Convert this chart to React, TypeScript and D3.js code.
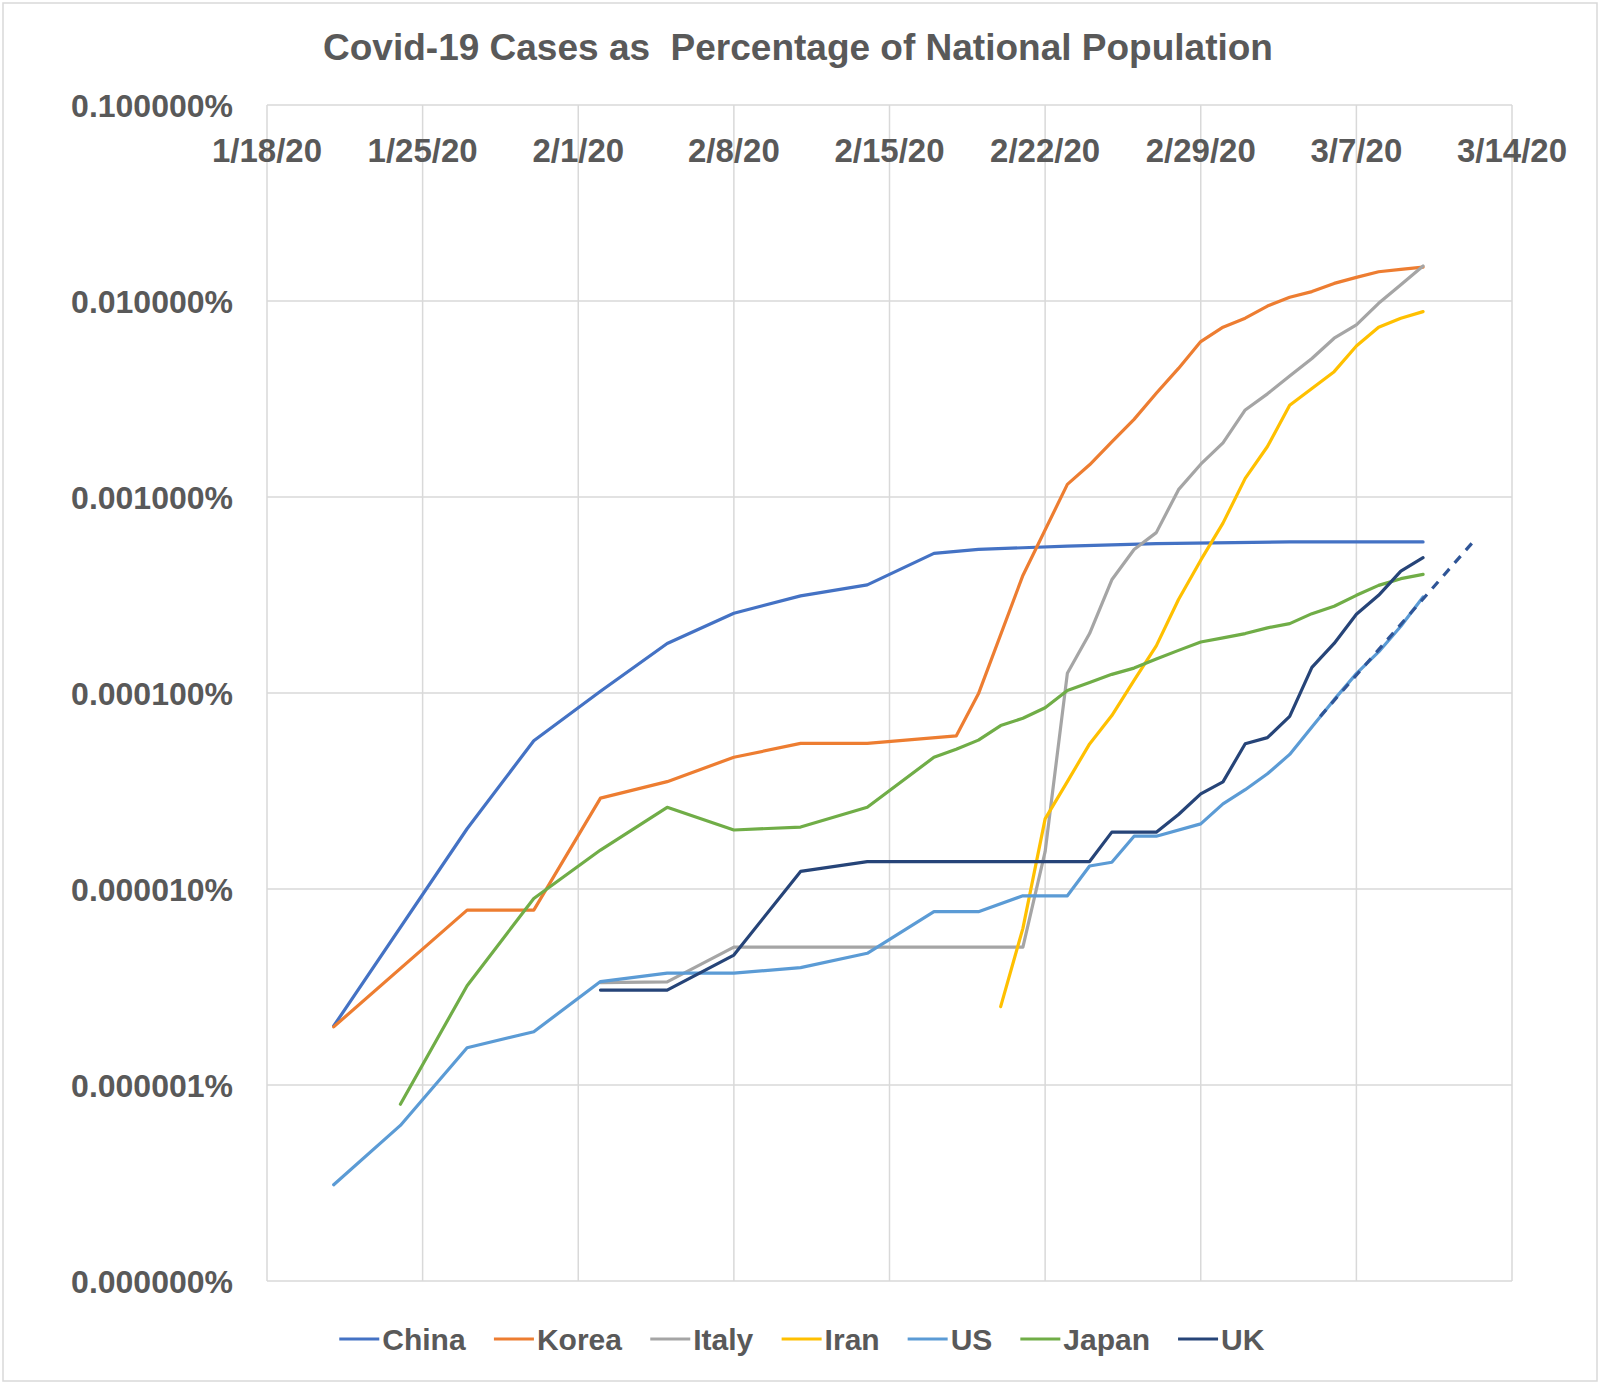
import React, { useEffect, useRef } from 'react';
import * as d3 from 'd3';

// values are percent of national population
type Pt = [string, number];

const china: Pt[] = [
  ['1/21', 2.0e-6], ['1/27', 2.03e-5], ['1/30', 5.71e-5], ['2/2', 1.02e-4],
  ['2/5', 1.79e-4], ['2/8', 2.55e-4], ['2/11', 3.13e-4], ['2/14', 3.56e-4],
  ['2/17', 5.16e-4], ['2/19', 5.4e-4], ['2/21', 5.51e-4], ['2/23', 5.62e-4],
  ['2/27', 5.78e-4], ['3/4', 5.9e-4], ['3/10', 5.9e-4],
];

const korea: Pt[] = [
  ['1/21', 1.98e-6], ['1/27', 7.8e-6], ['1/30', 7.8e-6], ['2/2', 2.91e-5],
  ['2/5', 3.53e-5], ['2/8', 4.7e-5], ['2/11', 5.53e-5], ['2/14', 5.53e-5],
  ['2/18', 6.04e-5], ['2/19', 9.9e-5], ['2/21', 3.98e-4], ['2/23', 1.16e-3],
  ['2/24', 1.46e-3], ['2/25', 1.91e-3], ['2/26', 2.49e-3], ['2/27', 3.38e-3],
  ['2/28', 4.53e-3], ['2/29', 6.21e-3], ['3/1', 7.35e-3], ['3/2', 8.17e-3],
  ['3/3', 9.42e-3], ['3/4', 1.045e-2], ['3/5', 1.117e-2], ['3/6', 1.23e-2],
  ['3/7', 1.32e-2], ['3/8', 1.41e-2], ['3/9', 1.45e-2], ['3/10', 1.49e-2],
];

const italy: Pt[] = [
  ['2/2', 3.33e-6], ['2/5', 3.36e-6], ['2/8', 5.05e-6], ['2/21', 5.05e-6],
  ['2/22', 1.55e-5], ['2/23', 1.26e-4], ['2/24', 2.01e-4], ['2/25', 3.78e-4],
  ['2/26', 5.4e-4], ['2/27', 6.58e-4], ['2/28', 1.09e-3], ['2/29', 1.47e-3],
  ['3/1', 1.89e-3], ['3/2', 2.78e-3], ['3/3', 3.36e-3], ['3/4', 4.14e-3],
  ['3/5', 5.09e-3], ['3/6', 6.46e-3], ['3/7', 7.55e-3], ['3/8', 9.73e-3],
  ['3/9', 1.21e-2], ['3/10', 1.51e-2],
];

const iran: Pt[] = [
  ['2/20', 2.51e-6], ['2/21', 6.3e-6], ['2/22', 2.28e-5], ['2/23', 3.53e-5],
  ['2/24', 5.5e-5], ['2/25', 7.67e-5], ['2/26', 1.16e-4], ['2/27', 1.74e-4],
  ['2/28', 3.0e-4], ['2/29', 4.76e-4], ['3/1', 7.36e-4], ['3/2', 1.245e-3],
  ['3/3', 1.81e-3], ['3/4', 2.94e-3], ['3/5', 3.58e-3], ['3/6', 4.36e-3],
  ['3/7', 5.89e-3], ['3/8', 7.35e-3], ['3/9', 8.17e-3], ['3/10', 8.83e-3],
];

const us: Pt[] = [
  ['1/21', 3.1e-7], ['1/24', 6.22e-7], ['1/27', 1.55e-6], ['1/30', 1.87e-6],
  ['2/2', 3.37e-6], ['2/5', 3.72e-6], ['2/8', 3.72e-6], ['2/11', 3.97e-6],
  ['2/14', 4.7e-6], ['2/17', 7.66e-6], ['2/19', 7.66e-6], ['2/21', 9.23e-6],
  ['2/23', 9.23e-6], ['2/24', 1.31e-5], ['2/25', 1.37e-5], ['2/26', 1.86e-5],
  ['2/27', 1.86e-5], ['2/29', 2.15e-5], ['3/1', 2.72e-5], ['3/2', 3.21e-5],
  ['3/3', 3.87e-5], ['3/4', 4.86e-5], ['3/5', 6.71e-5], ['3/6', 9.25e-5],
  ['3/7', 1.256e-4], ['3/8', 1.62e-4], ['3/9', 2.19e-4], ['3/10', 3.09e-4],
];

const japan: Pt[] = [
  ['1/24', 7.98e-7], ['1/27', 3.21e-6], ['1/30', 8.95e-6], ['2/2', 1.58e-5],
  ['2/5', 2.61e-5], ['2/8', 2.0e-5], ['2/11', 2.07e-5], ['2/14', 2.61e-5],
  ['2/17', 4.7e-5], ['2/18', 5.16e-5], ['2/19', 5.75e-5], ['2/20', 6.82e-5],
  ['2/21', 7.43e-5], ['2/22', 8.41e-5], ['2/23', 1.03e-4], ['2/24', 1.13e-4],
  ['2/25', 1.245e-4], ['2/26', 1.34e-4], ['2/27', 1.49e-4], ['2/28', 1.65e-4],
  ['2/29', 1.82e-4], ['3/1', 1.91e-4], ['3/2', 2.01e-4], ['3/3', 2.15e-4],
  ['3/4', 2.26e-4], ['3/5', 2.54e-4], ['3/6', 2.77e-4], ['3/7', 3.15e-4],
  ['3/8', 3.54e-4], ['3/9', 3.83e-4], ['3/10', 4.03e-4],
];

const uk: Pt[] = [
  ['2/2', 3.05e-6], ['2/5', 3.05e-6], ['2/8', 4.6e-6], ['2/11', 1.23e-5],
  ['2/14', 1.38e-5], ['2/24', 1.38e-5], ['2/25', 1.95e-5], ['2/27', 1.95e-5],
  ['2/28', 2.4e-5], ['2/29', 3.06e-5], ['3/1', 3.52e-5], ['3/2', 5.51e-5],
  ['3/3', 5.92e-5], ['3/4', 7.6e-5], ['3/5', 1.35e-4], ['3/6', 1.79e-4],
  ['3/7', 2.52e-4], ['3/8', 3.15e-4], ['3/9', 4.19e-4], ['3/10', 4.9e-4],
];

// dashed exponential trend drawn over the US series
const trend: Pt[] = [['3/5 09', 7.6e-5], ['3/12 07', 5.98e-4]];

const seriesNames = ['China', 'Korea', 'Italy', 'Iran', 'US', 'Japan', 'UK'];
const seriesData = [china, korea, italy, iran, us, japan, uk];
const seriesColors = ['#4472C4', '#ED7D31', '#A5A5A5', '#FFC000', '#5B9BD5', '#70AD47', '#264478'];

const yTickValues = [0.1, 0.01, 0.001, 0.0001, 0.00001, 0.000001, 0.0000001];
const xStart = '1/18';
const xEnd = '3/14';

const parseDay = d3.timeParse('%m/%d/%Y');
const parseHour = d3.timeParse('%m/%d/%Y %H');
const toDate = (s: string) => (s.includes(' ') ? parseHour(s.replace(' ', '/2020 ')) : parseDay(s + '/2020')) as Date;

const FONT = "'Liberation Sans', Arial, sans-serif";
const TEXT = '#595959';

export default function App() {
  const svgRef = useRef<SVGSVGElement>(null);
  const width = 1600;
  const height = 1386;

  useEffect(() => {
    if (!svgRef.current) return;
    const svg = d3.select(svgRef.current);
    svg.selectAll('*').remove();

    const margin = { top: 105, right: 88, bottom: 105, left: 267 };
    const x = d3.scaleTime()
      .domain([toDate(xStart), toDate(xEnd)])
      .range([margin.left, width - margin.right]);
    const y = d3.scaleLog()
      .domain([1e-7, 0.1])
      .range([height - margin.bottom, margin.top]);

    // chart frame
    svg.append('rect')
      .attr('x', 3).attr('y', 3)
      .attr('width', width - 6).attr('height', height - 8)
      .attr('fill', '#fff')
      .attr('stroke', '#D9D9D9')
      .attr('stroke-width', 1.5);

    // title
    svg.append('text')
      .attr('x', 798)
      .attr('y', 60)
      .attr('text-anchor', 'middle')
      .style('font-family', FONT)
      .style('font-size', '37px')
      .style('font-weight', 'bold')
      .style('fill', TEXT)
      .style('white-space', 'pre')
      .text('Covid-19 Cases as  Percentage of National Population');

    const xTicks = d3.timeDay.range(toDate(xStart), d3.timeDay.offset(toDate(xEnd), 1), 7);

    // gridlines
    const grid = svg.append('g').attr('stroke', '#D9D9D9').attr('stroke-width', 1.5);
    grid.selectAll('.hgrid')
      .data(yTickValues)
      .enter()
      .append('line')
      .attr('x1', x.range()[0]).attr('x2', x.range()[1])
      .attr('y1', d => y(d)).attr('y2', d => y(d));
    grid.selectAll('.vgrid')
      .data(xTicks)
      .enter()
      .append('line')
      .attr('x1', d => x(d)).attr('x2', d => x(d))
      .attr('y1', y.range()[0]).attr('y2', y.range()[1]);

    // y tick labels
    svg.append('g')
      .selectAll('text')
      .data(yTickValues)
      .enter()
      .append('text')
      .attr('x', 233)
      .attr('y', d => y(d))
      .attr('dy', '0.36em')
      .attr('text-anchor', 'end')
      .style('font-family', FONT)
      .style('font-size', '32px')
      .style('font-weight', 'bold')
      .style('fill', TEXT)
      .text(d => d.toFixed(6) + '%');

    // x tick labels (drawn just under the top edge, as in the source)
    const fmt = d3.timeFormat('%-m/%-d/%y');
    svg.append('g')
      .selectAll('text')
      .data(xTicks)
      .enter()
      .append('text')
      .attr('x', d => x(d))
      .attr('y', 162)
      .attr('text-anchor', 'middle')
      .style('font-family', FONT)
      .style('font-size', '33px')
      .style('font-weight', 'bold')
      .style('fill', TEXT)
      .text(d => fmt(d));

    const line = d3.line<Pt>()
      .x(d => x(toDate(d[0])))
      .y(d => y(d[1]));

    const plot = svg.append('g');
    seriesData.forEach((data, i) => {
      plot.append('path')
        .datum(data)
        .attr('d', line)
        .attr('fill', 'none')
        .attr('stroke', seriesColors[i])
        .attr('stroke-width', 3.2)
        .attr('stroke-linejoin', 'round')
        .attr('stroke-linecap', 'round');
    });

    plot.append('path')
      .datum(trend)
      .attr('d', line)
      .attr('fill', 'none')
      .attr('stroke', '#2F5597')
      .attr('stroke-width', 3.2)
      .attr('stroke-dasharray', '9,8');

    // legend
    const legend = svg.append('g');
    const items = legend.selectAll('g')
      .data(seriesNames)
      .enter()
      .append('g');
    items.append('line')
      .attr('x1', 0).attr('x2', 40)
      .attr('y1', 0).attr('y2', 0)
      .attr('stroke', (_, i) => seriesColors[i])
      .attr('stroke-width', 3.2);
    items.append('text')
      .attr('x', 43)
      .attr('dy', '0.36em')
      .style('font-family', FONT)
      .style('font-size', '30px')
      .style('font-weight', 'bold')
      .style('fill', TEXT)
      .text(d => d);

    const widths: number[] = [];
    items.each(function () {
      widths.push((this as SVGGElement).getBBox().width);
    });
    const gap = 28;
    const total = d3.sum(widths) + gap * (widths.length - 1);
    let cx = 802 - total / 2;
    items.attr('transform', (_, i) => {
      const t = `translate(${cx},1339)`;
      cx += widths[i] + gap;
      return t;
    });
  }, []);

  return (
    <svg
      ref={svgRef}
      width={width}
      height={height}
      style={{ position: 'absolute', left: 0, top: 0, background: '#fff' }}
    />
  );
}
